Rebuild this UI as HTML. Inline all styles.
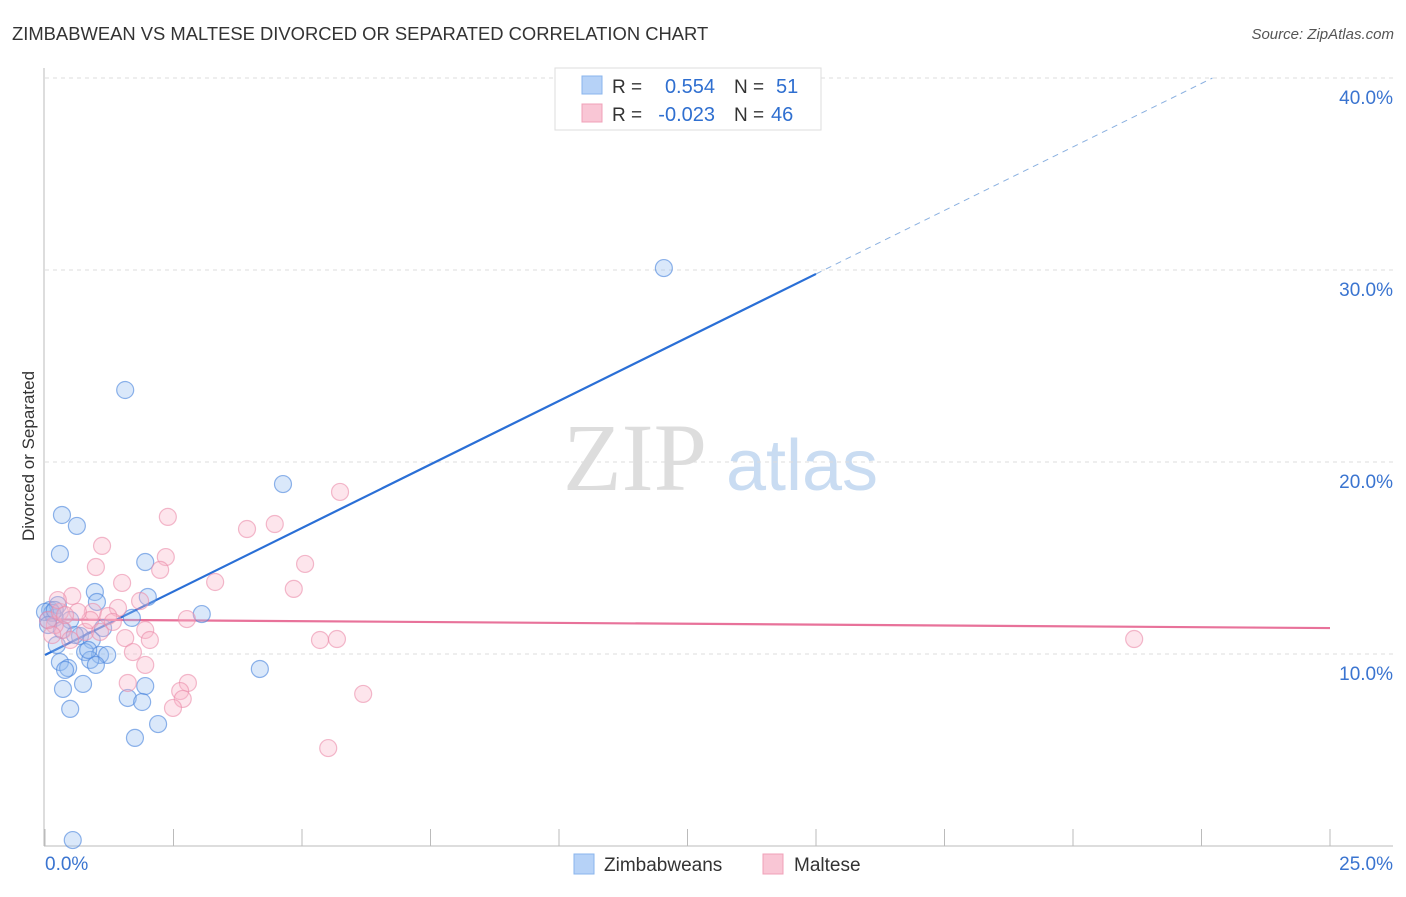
<!DOCTYPE html>
<html><head><meta charset="utf-8"><style>
body{margin:0;background:#fff;font-family:"Liberation Sans",sans-serif;}
svg text{font-family:"Liberation Sans",sans-serif;}
</style></head><body>
<svg width="1406" height="892" viewBox="0 0 1406 892" id="svg">
<text x="12" y="40" font-size="18.4" fill="#333">ZIMBABWEAN VS MALTESE DIVORCED OR SEPARATED CORRELATION CHART</text>
<text x="1394" y="39" font-size="15" fill="#555" font-style="italic" text-anchor="end">Source: ZipAtlas.com</text>
<g>
<text x="635" y="490" font-size="96" font-family="Liberation Serif" fill="#ddd" text-anchor="middle" style="font-family:'Liberation Serif',serif">ZIP</text>
<text x="802" y="490" font-size="72" fill="#c9dcf2" text-anchor="middle">atlas</text>
</g>
<text transform="translate(34,456) rotate(-90)" font-size="17" fill="#333" text-anchor="middle">Divorced or Separated</text>
<g id="grid"></g><g id="axes"></g><g id="lines"></g><g id="pts"></g>
<g>
<rect x="555" y="68" width="266" height="62" fill="#fff" stroke="#ddd"/>
<rect x="582" y="76" width="20" height="18" fill="#b6d2f7" stroke="#8ab4ec"/>
<rect x="582" y="104" width="20" height="18" fill="#f9c6d5" stroke="#f0a0b8"/>
<text x="612" y="93" font-size="19" fill="#333">R =</text>
<text x="715" y="93" font-size="20" fill="#2f6fd0" text-anchor="end">0.554</text>
<text x="734" y="93" font-size="19" fill="#333">N =</text>
<text x="776" y="93" font-size="20" fill="#2f6fd0">51</text>
<text x="612" y="121" font-size="19" fill="#333">R =</text>
<text x="715" y="121" font-size="20" fill="#2f6fd0" text-anchor="end">-0.023</text>
<text x="734" y="121" font-size="19" fill="#333">N =</text>
<text x="771" y="121" font-size="20" fill="#2f6fd0">46</text>
</g>
<g>
<rect x="574" y="854" width="20" height="20" fill="#b6d2f7" stroke="#8ab4ec"/>
<text x="604" y="871" font-size="19" fill="#333">Zimbabweans</text>
<rect x="763" y="854" width="20" height="20" fill="#f9c6d5" stroke="#f0a0b8"/>
<text x="794" y="871" font-size="19" fill="#333">Maltese</text>
</g>
</svg>
<script>
const yTicks=[10,20,30,40];
const yTickLabels=["10.0%","20.0%","30.0%","40.0%"];
const xTicks=[0,2.5,5,7.5,10,12.5,15,17.5,20,22.5,25];
const blueX=[1.56,12.04,4.63,0.33,0.62,0.29,1.95,0.97,2.0,1.01,3.05,1.69,0.1,0.19,0.06,0.25,0.49,0.33,0.68,0.91,0.23,0.78,1.07,1.21,0.88,0.29,0.45,0.39,0.99,4.18,0.35,0.74,1.95,1.61,1.89,0.49,2.2,1.75,0.54,0.14,0.0,0.06,0.19,0.58,0.84,1.13];
const blueY=[23.75,30.1,18.85,17.24,16.67,15.21,14.79,13.23,12.97,12.71,12.08,11.88,12.29,11.88,11.77,12.55,11.77,11.25,10.94,10.73,10.47,10.1,9.95,9.95,9.69,9.58,9.27,9.17,9.43,9.22,8.18,8.44,8.33,7.71,7.5,7.14,6.35,5.63,0.31,12.14,12.19,11.51,12.29,10.99,10.21,11.35];
const pinkX=[5.74,2.39,3.93,4.47,1.11,2.35,2.24,5.06,0.99,1.5,3.31,4.84,0.53,1.85,1.42,0.93,2.76,1.23,1.32,1.95,2.04,1.56,5.35,5.68,21.19,0.78,0.35,0.19,0.06,0.29,1.71,1.95,1.61,2.78,2.63,2.68,2.49,6.19,5.51,0.14,0.49,0.88,1.07,0.64,0.39,0.25];
const pinkY=[18.44,17.14,16.51,16.77,15.63,15.05,14.38,14.69,14.53,13.7,13.75,13.39,13.02,12.76,12.4,12.19,11.82,11.98,11.67,11.25,10.73,10.83,10.73,10.78,10.78,11.15,11.25,11.51,11.77,12.19,10.1,9.43,8.49,8.49,8.07,7.66,7.19,7.92,5.1,10.99,10.73,11.77,11.15,12.19,12.03,12.81];
const blueFit=[9.95,1.323];
const pinkFit=[11.8,-0.018];
const X=v=>45+v*51.4, Y=v=>846-v*19.2;
const NS="http://www.w3.org/2000/svg";
function mk(t,a,p){const e=document.createElementNS(NS,t);for(const k in a)e.setAttribute(k,a[k]);p.appendChild(e);return e;}
const grid=document.getElementById('grid');
yTicks.forEach((t,i)=>{
 const l=mk('line',{x1:45,x2:1393,y1:Y(t),y2:Y(t),stroke:'#ddd','stroke-dasharray':'4,4'},grid);
 
 
 const tx=mk('text',{x:1393,y:Y(t)+26,'font-size':19,fill:'#3a74d0','text-anchor':'end'},grid);
 tx.textContent=yTickLabels[i];
 
 
});
const ax=document.getElementById('axes');
mk('line',{x1:44,x2:44,y1:68,y2:846,stroke:'#bbb'},ax);
mk('line',{x1:44,x2:1393,y1:846,y2:846,stroke:'#bbb'},ax);
xTicks.forEach(t=>{const l=mk('line',{x1:X(t),x2:X(t),y1:829,y2:846,stroke:'#bbb'},ax);
 
 });
let t0=mk('text',{x:45,y:870,'font-size':19,fill:'#3a74d0'},ax);t0.textContent="0.0%";


let t1=mk('text',{x:1393,y:870,'font-size':19,fill:'#3a74d0','text-anchor':'end'},ax);t1.textContent="25.0%";


const pts=document.getElementById('pts');
blueX.forEach((x,i)=>{const c=mk('circle',{cx:X(x),cy:Y(blueY[i]),r:8.5,fill:'rgba(150,190,240,0.35)',stroke:'rgba(70,130,220,0.6)','stroke-width':1.2},pts);
 
 });
pinkX.forEach((x,i)=>{const c=mk('circle',{cx:X(x),cy:Y(pinkY[i]),r:8.5,fill:'rgba(248,180,200,0.35)',stroke:'rgba(235,140,170,0.6)','stroke-width':1.2},pts);
 
 });
const ln=document.getElementById('lines');
const bEnd=(40-blueFit[0])/blueFit[1];
let b1=mk('line',{x1:X(0),y1:Y(blueFit[0]),x2:X(15),y2:Y(blueFit[0]+blueFit[1]*15),stroke:'#2a6fd6','stroke-width':2.2},ln);


let b2=mk('line',{x1:X(15),y1:Y(blueFit[0]+blueFit[1]*15),x2:X(bEnd),y2:Y(40),stroke:'#8ab0e0','stroke-width':1,'stroke-dasharray':'6,5'},ln);


let p1=mk('line',{x1:X(0),y1:Y(pinkFit[0]),x2:X(25),y2:Y(pinkFit[0]+pinkFit[1]*25),stroke:'#e8729a','stroke-width':2.2},ln);


</script>
</body></html>
